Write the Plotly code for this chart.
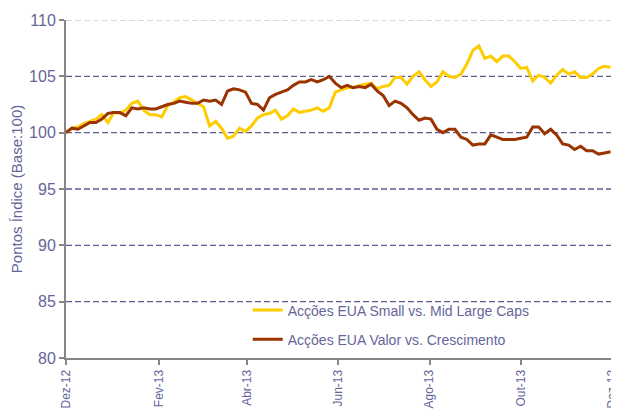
import pandas as pd
import plotly.graph_objects as go

# --- data (base 100, one point every 4 days) ---
start_date = "2012-12-01"
step_days = 4

small_vs_large = [
    100.0, 100.4, 100.5, 100.8, 101.0, 101.2, 101.6, 100.9, 101.8, 101.7,
    102.0, 102.6, 102.8, 102.0, 101.6, 101.6, 101.4, 102.4, 102.7, 103.1,
    103.2, 102.9, 102.6, 102.3, 100.6, 101.0, 100.4, 99.5, 99.7, 100.4,
    100.1, 100.6, 101.3, 101.6, 101.7, 102.0, 101.2, 101.5, 102.1, 101.8,
    101.9, 102.0, 102.2, 101.9, 102.2, 103.6, 103.8, 104.0, 104.0, 104.2,
    104.3, 104.4, 103.9, 104.1, 104.2, 104.9, 104.9, 104.3, 105.0, 105.4,
    104.7, 104.1, 104.5, 105.4, 105.0, 104.9, 105.2, 106.1, 107.3, 107.7,
    106.6, 106.8, 106.3, 106.8, 106.8, 106.3, 105.7, 105.8, 104.6, 105.1,
    104.9, 104.4, 105.1, 105.6, 105.2, 105.4, 104.9, 104.9, 105.2, 105.7,
    105.9, 105.8,
]

value_vs_growth = [
    100.0, 100.4, 100.3, 100.6, 100.9, 100.9, 101.2, 101.7, 101.8, 101.8,
    101.5, 102.2, 102.1, 102.2, 102.1, 102.1, 102.3, 102.5, 102.6, 102.8,
    102.7, 102.6, 102.6, 102.9, 102.8, 102.9, 102.5, 103.7, 103.9, 103.8,
    103.6, 102.6, 102.5, 102.0, 103.1, 103.4, 103.6, 103.8, 104.2, 104.5,
    104.5, 104.7, 104.5, 104.7, 105.0, 104.4, 104.0, 104.2, 104.0, 104.1,
    104.0, 104.3, 103.7, 103.3, 102.4, 102.8, 102.6, 102.2, 101.6, 101.1,
    101.3, 101.2, 100.3, 100.0, 100.3, 100.3, 99.6, 99.4, 98.9, 99.0,
    99.0, 99.8, 99.6, 99.4, 99.4, 99.4, 99.5, 99.6, 100.5, 100.5,
    99.9, 100.3, 99.8, 99.0, 98.9, 98.5, 98.8, 98.4, 98.4, 98.1,
    98.2, 98.3,
]

tick_dates = ["2012-12-01", "2013-02-01", "2013-04-01", "2013-06-01",
              "2013-08-01", "2013-10-01", "2013-12-01"]
tick_labels = ["Dez-12", "Fev-13", "Abr-13", "Jun-13", "Ago-13", "Out-13", "Dez-13"]
y_ticks = [80, 85, 90, 95, 100, 105, 110]

dates = pd.date_range(start_date, periods=len(small_vs_large), freq=f"{step_days}D")

text_color = "#65659A"
font_family = "Liberation Sans, Arial, sans-serif"

fig = go.Figure()
fig.add_trace(go.Scatter(
    x=dates, y=small_vs_large, mode="lines", name="Acções EUA Small vs. Mid Large Caps",
    line=dict(color="#FFCC00", width=3), legendgroup="a"
))
fig.add_trace(go.Scatter(
    x=dates, y=value_vs_growth, mode="lines", name="Acções EUA Valor vs. Crescimento",
    line=dict(color="#993300", width=3), legendgroup="b"
))

# dashed gridlines, the top one lighter
shapes = []
for v in y_ticks[1:]:
    shapes.append(dict(
        type="line", xref="paper", x0=0, x1=1, yref="y", y0=v, y1=v, layer="below",
        line=dict(color="#C9C9E0" if v == y_ticks[-1] else "#5E5E90", width=1.3, dash="6px,3px")
    ))

# the page body adds an 8px offset, so the figure is sized to fit what is left
fig.update_layout(
    width=611, height=404,
    margin=dict(l=58, r=4, t=12, b=54),
    paper_bgcolor="white", plot_bgcolor="white",
    font=dict(family=font_family, color=text_color),
    shapes=shapes,
    showlegend=True,
    legend=dict(
        x=0.331, y=0.188, xanchor="left", yanchor="top",
        font=dict(size=14, color=text_color), bgcolor="rgba(0,0,0,0)",
        traceorder="grouped", tracegroupgap=8
    ),
    xaxis=dict(
        type="date", range=[tick_dates[0], "2013-12-03"],
        tickvals=tick_dates, ticktext=tick_labels, tickangle=-90,
        tickfont=dict(size=12, color=text_color), automargin=False,
        ticklabeloverflow="allow",
        showgrid=False, zeroline=False,
        showline=True, linecolor="#868686", linewidth=2,
        ticks="outside", ticklen=5, tickcolor="#868686", tickwidth=1.5,
    ),
    yaxis=dict(
        range=[80, 110], tickvals=y_ticks, automargin=False,
        tickfont=dict(size=16, color=text_color),
        title=dict(text="Pontos Índice (Base:100)", font=dict(size=15, color=text_color), standoff=6),
        showgrid=False, zeroline=False,
        showline=True, linecolor="#868686", linewidth=2,
        ticks="outside", ticklen=5, tickcolor="#868686", tickwidth=1.5,
    ),
)

fig.write_html("out.html")
